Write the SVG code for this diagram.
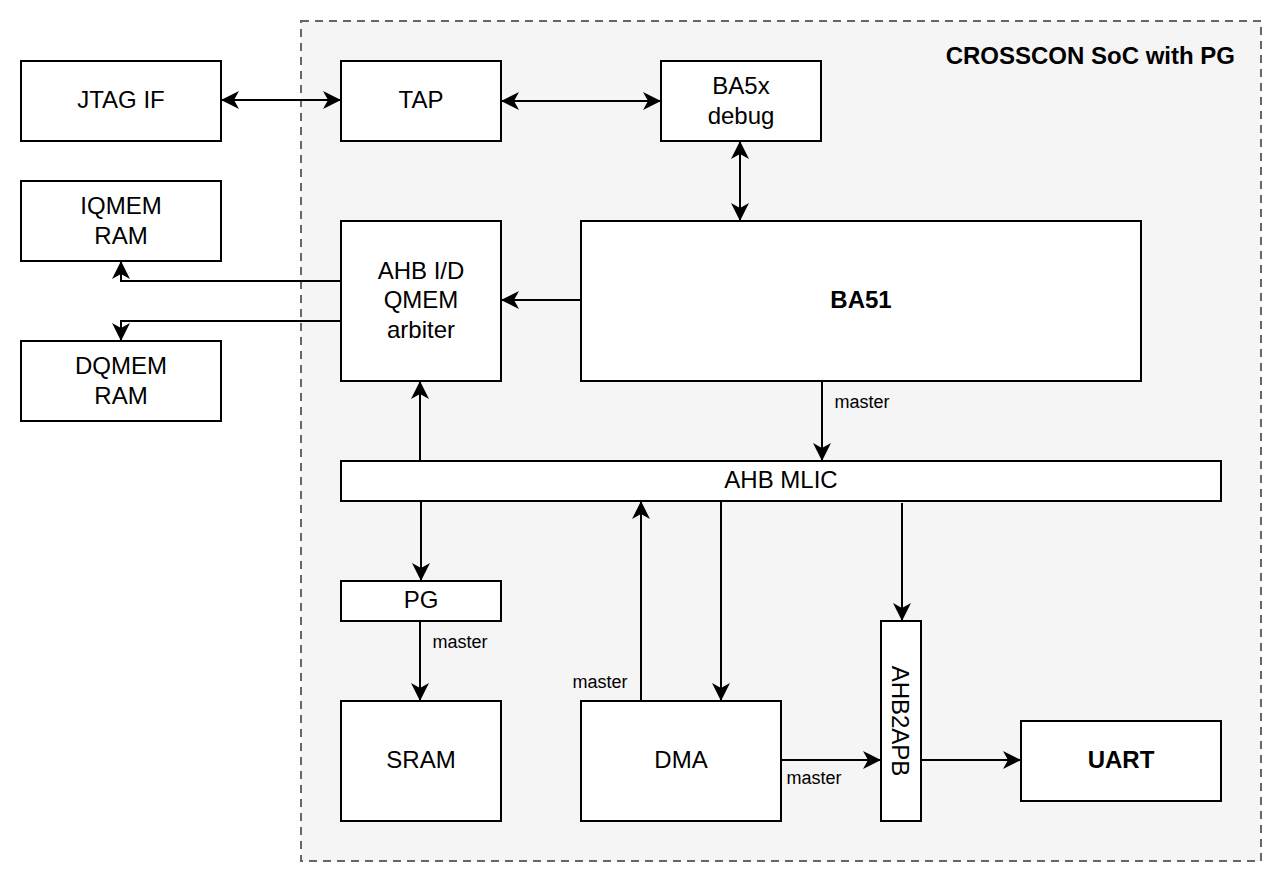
<svg xmlns="http://www.w3.org/2000/svg" width="1282" height="882" viewBox="0 0 1282 882">
<defs>
<style>
.box{fill:#ffffff;stroke:#000000;stroke-width:2}
.t{font-family:"Liberation Sans",Arial,sans-serif;font-size:24px;fill:#000;text-anchor:middle}
.b{font-weight:bold}
.lbl{font-family:"Liberation Sans",Arial,sans-serif;font-size:18px;fill:#000;text-anchor:middle}
.c{fill:none;stroke:#000;stroke-width:2}
</style>
<marker id="arr" markerUnits="userSpaceOnUse" viewBox="-19 -10 21 20" markerWidth="21" markerHeight="20" refX="0" refY="0" orient="auto-start-reverse">
<path d="M0,0 L-18,-9 L-13,0 L-18,9 Z" fill="#000"/>
</marker>
</defs>
<rect width="1282" height="882" fill="#ffffff"/>
<g id="container">
<rect x="301" y="21" width="960" height="840" fill="#f5f5f5" stroke="#666666" stroke-width="2" stroke-dasharray="8 6"/>
<text class="t b" x="1235" y="64" style="text-anchor:end">CROSSCON SoC with PG</text>
</g>
<g id="connectors">
<path class="c" d="M221,100 L341,100" marker-start="url(#arr)" marker-end="url(#arr)"/>
<path class="c" d="M501,101 L661,101" marker-start="url(#arr)" marker-end="url(#arr)"/>
<path class="c" d="M740,141 L740,221" marker-start="url(#arr)" marker-end="url(#arr)"/>
<path class="c" d="M581,300 L501,300" marker-end="url(#arr)"/>
<path class="c" d="M341,281 L121,281 L121,261" marker-end="url(#arr)"/>
<path class="c" d="M341,321 L121,321 L121,341" marker-end="url(#arr)"/>
<path class="c" d="M420,461 L420,381" marker-end="url(#arr)"/>
<path class="c" d="M822,381 L822,461" marker-end="url(#arr)"/>
<path class="c" d="M421,501 L421,581" marker-end="url(#arr)"/>
<path class="c" d="M420,621 L420,701" marker-end="url(#arr)"/>
<path class="c" d="M641,701 L641,501" marker-end="url(#arr)"/>
<path class="c" d="M721,501 L721,701" marker-end="url(#arr)"/>
<path class="c" d="M902,503 L902,621" marker-end="url(#arr)"/>
<path class="c" d="M781,760 L881,760" marker-end="url(#arr)"/>
<path class="c" d="M921,760 L1021,760" marker-end="url(#arr)"/>
<text class="lbl" x="862" y="408">master</text>
<text class="lbl" x="460" y="648">master</text>
<text class="lbl" x="600" y="688">master</text>
<text class="lbl" x="814" y="784">master</text>
</g>
<g id="jtag"><rect class="box" x="21" y="61" width="200" height="80"/><text class="t" x="121" y="108">JTAG IF</text></g>
<g id="tap"><rect class="box" x="341" y="61" width="160" height="80"/><text class="t" x="421" y="108">TAP</text></g>
<g id="ba5x"><rect class="box" x="661" y="61" width="160" height="80"/><text class="t" x="741" y="94">BA5x</text><text class="t" x="741" y="124">debug</text></g>
<g id="iqmem"><rect class="box" x="21" y="181" width="200" height="80"/><text class="t" x="121" y="214">IQMEM</text><text class="t" x="121" y="244">RAM</text></g>
<g id="dqmem"><rect class="box" x="21" y="341" width="200" height="80"/><text class="t" x="121" y="374">DQMEM</text><text class="t" x="121" y="404">RAM</text></g>
<g id="arbiter"><rect class="box" x="341" y="221" width="160" height="160"/><text class="t" x="421" y="279">AHB I/D</text><text class="t" x="421" y="308">QMEM</text><text class="t" x="421" y="338">arbiter</text></g>
<g id="ba51"><rect class="box" x="581" y="221" width="560" height="160"/><text class="t b" x="861" y="308">BA51</text></g>
<g id="mlic"><rect class="box" x="341" y="461" width="880" height="40"/><text class="t" x="781" y="488">AHB MLIC</text></g>
<g id="pg"><rect class="box" x="341" y="581" width="160" height="40"/><text class="t" x="421" y="608">PG</text></g>
<g id="sram"><rect class="box" x="341" y="701" width="160" height="120"/><text class="t" x="421" y="768">SRAM</text></g>
<g id="dma"><rect class="box" x="581" y="701" width="200" height="120"/><text class="t" x="681" y="768">DMA</text></g>
<g id="ahb2apb"><rect class="box" x="881" y="621" width="40" height="200"/><text class="t" transform="translate(892,721) rotate(90)" x="0" y="0">AHB2APB</text></g>
<g id="uart"><rect class="box" x="1021" y="721" width="200" height="80"/><text class="t b" x="1121" y="768">UART</text></g>
</svg>
